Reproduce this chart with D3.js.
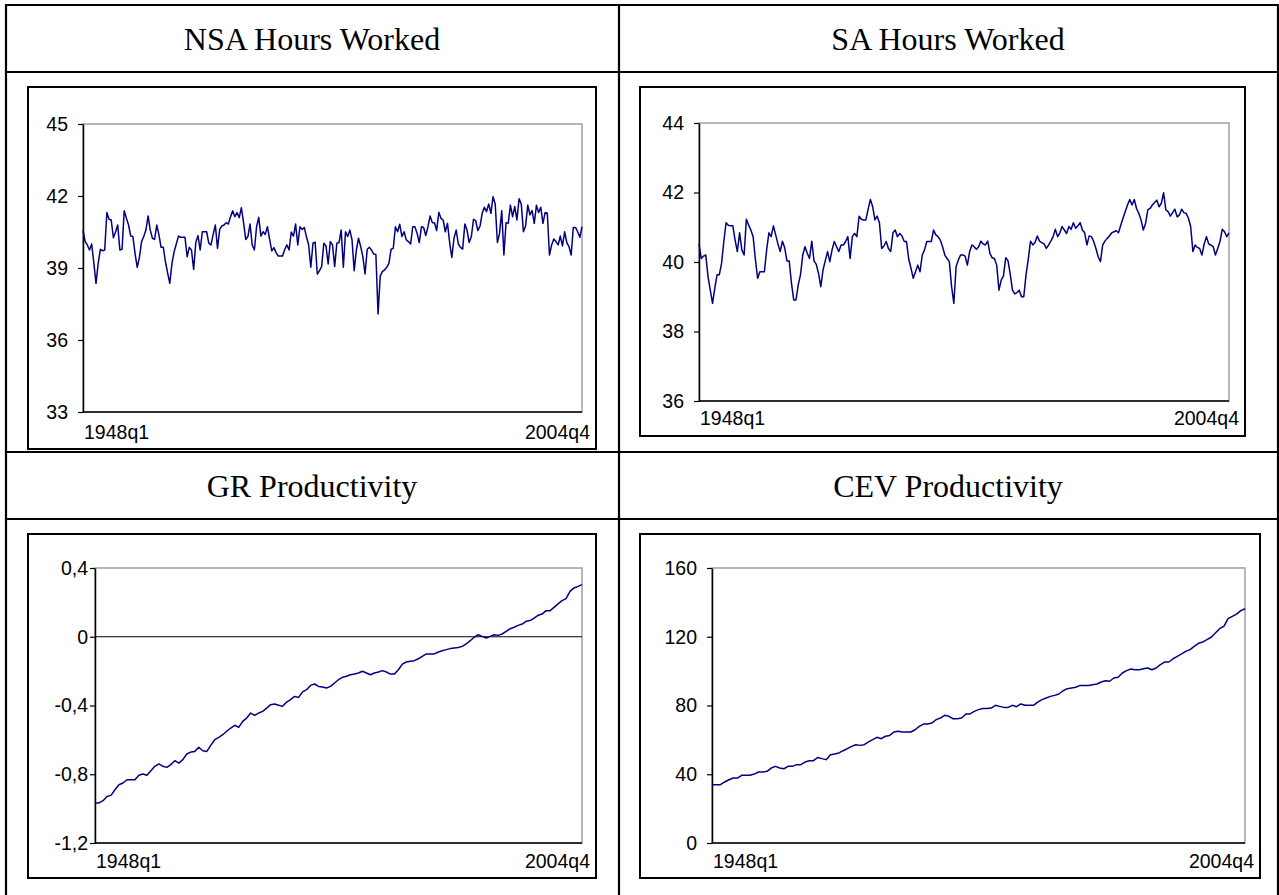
<!DOCTYPE html>
<html>
<head>
<meta charset="utf-8">
<script src="https://cdn.jsdelivr.net/npm/d3@7"></script>
<style>
  body { margin: 0; background: #fff; }
</style>
</head>
<body>
<script>
// Panel titles and the two end labels of the quarterly axis
const panelTitles = ["NSA Hours Worked", "SA Hours Worked", "GR Productivity", "CEV Productivity"];
const xLabels = ["1948q1", "2004q4"];

// y tick values per panel
const nsaTicks = [33, 36, 39, 42, 45];
const saTicks = [36, 38, 40, 42, 44];
const grTicks = [-1.2, -0.8, -0.4, 0, 0.4];
const cevTicks = [0, 40, 80, 120, 160];

// series (1948q1 .. 2004q4)
const nsaHours = [
  40.58, 40.10, 39.96, 39.75, 40.00, 39.20, 38.36, 39.19, 39.78, 39.72,
  39.75, 41.31, 41.03, 41.00, 40.26, 40.50, 40.79, 39.75, 39.78, 41.39,
  41.07, 40.79, 40.33, 40.31, 39.60, 39.03, 39.44, 40.10, 40.31, 40.58,
  41.17, 40.58, 40.24, 40.19, 40.79, 40.38, 39.86, 39.86, 39.26, 38.80,
  38.36, 39.19, 39.68, 40.00, 40.33, 40.28, 40.28, 40.28, 39.47, 39.86,
  39.75, 38.94, 40.06, 40.35, 39.75, 40.51, 40.51, 40.51, 40.03, 39.96,
  40.40, 40.79, 39.82, 40.61, 40.75, 40.79, 40.89, 40.83, 41.14, 41.38,
  41.14, 41.31, 41.10, 41.51, 40.90, 40.19, 40.31, 40.83, 39.96, 39.75,
  40.72, 41.11, 40.33, 40.51, 40.40, 40.72, 40.20, 39.71, 39.85, 39.64,
  39.50, 39.50, 39.50, 39.78, 39.96, 39.75, 40.50, 40.33, 40.83, 39.96,
  40.72, 40.61, 40.69, 40.30, 39.96, 39.03, 40.03, 40.08, 38.75, 38.89,
  39.06, 40.03, 39.92, 39.17, 40.10, 39.96, 39.06,
  40.03, 40.06, 40.58, 39.03, 40.51, 40.31, 40.58, 40.17, 38.89, 39.75,
  40.24, 39.89, 39.47, 38.75, 39.78, 39.86, 39.75, 39.58, 39.56, 37.08,
  38.67, 38.85, 38.92, 39.03, 39.19, 39.78, 39.82, 40.72, 40.51, 40.82,
  40.31, 40.51, 40.17, 40.10, 40.00, 40.72, 40.72, 40.44, 40.06, 40.72,
  40.69, 40.35, 40.72, 41.17, 40.89, 40.89, 40.56, 41.32, 41.07, 41.00,
  40.51, 40.86, 40.06, 39.44, 40.24, 40.58, 40.00, 39.86, 39.79, 40.83,
  40.58, 40.06, 40.31, 41.03, 40.97, 40.56, 40.75, 41.28, 41.53, 41.35,
  41.67, 41.28, 41.97, 41.67, 40.06, 40.44, 41.39, 39.54, 40.89, 40.86,
  41.62, 41.14, 41.56, 41.00, 41.89, 41.67, 40.51, 40.75, 41.62, 41.21,
  41.39, 40.86, 41.61, 41.31, 41.53, 40.86, 41.31, 41.28, 39.54, 39.96,
  40.21, 40.10, 39.96, 40.33, 39.92, 40.51, 40.06, 39.89, 39.54, 40.69,
  40.69, 40.51, 40.28, 40.72
];

const saHours = [
  40.52, 40.10, 40.17, 40.20, 39.58, 39.19, 38.81, 39.24, 39.63, 39.63,
  39.96, 40.59, 41.13, 41.06, 41.04, 41.04, 40.63, 40.30, 40.84, 40.35,
  40.20, 41.23, 41.06, 40.92, 40.73, 40.08, 39.53, 39.72, 39.72, 39.72,
  40.35, 40.84, 40.73, 41.04, 40.78, 40.52, 40.30, 40.60, 40.41, 40.03,
  40.03, 39.39, 38.91, 38.91, 39.34, 39.63, 40.20, 40.44, 40.25, 40.10,
  40.60, 40.03, 39.93, 39.67, 39.29, 39.77, 40.04, 40.30, 40.01, 40.35,
  40.59, 40.44, 40.30, 40.49, 40.49, 40.59, 40.73, 40.10, 40.73, 40.82,
  40.73, 41.32, 41.23, 41.21, 41.21, 41.52, 41.80, 41.59, 41.21, 41.32,
  41.13, 40.39, 40.46, 40.59, 40.39, 40.30, 40.84, 40.92, 40.73, 40.82,
  40.75, 40.59, 40.59, 40.08, 39.82, 39.53, 39.72, 39.91, 39.72, 40.20,
  40.35, 40.59, 40.59, 40.59, 40.92, 40.78, 40.73, 40.63, 40.44, 40.20,
  40.10, 40.01, 39.29, 38.81, 39.87, 40.06, 40.20, 40.20,
  40.17, 39.91, 40.30, 40.49, 40.44, 40.37, 40.44, 40.60, 40.52, 40.49,
  40.60, 40.25, 40.12, 40.10, 39.91, 39.19, 39.48, 39.60, 40.12, 40.04,
  39.65, 39.19, 39.08, 39.12, 39.19, 39.00, 39.00, 39.63, 40.08, 40.60,
  40.49, 40.56, 40.75, 40.60, 40.56, 40.52, 40.39, 40.49, 40.60, 40.73,
  40.94, 40.73, 40.84, 41.02, 40.92, 40.82, 41.02, 40.94, 41.13, 40.97,
  41.04, 41.13, 40.92, 40.84, 40.49, 40.75, 40.73, 40.59, 40.39, 40.15,
  40.01, 40.49, 40.60, 40.68, 40.75, 40.84, 40.87, 40.90, 40.84, 41.06,
  41.26, 41.45, 41.64, 41.80, 41.64, 41.80, 41.54, 41.40, 41.21, 40.92,
  41.11, 41.50, 41.54, 41.64, 41.71, 41.78, 41.59, 41.69, 41.99, 41.50,
  41.45, 41.32, 41.42, 41.52, 41.30, 41.35, 41.52, 41.42, 41.40, 41.26,
  41.02, 40.30, 40.49, 40.42, 40.39, 40.20, 40.52, 40.73, 40.52, 40.49,
  40.44, 40.20, 40.39, 40.59, 40.94, 40.87, 40.73, 40.84
];

const grProductivity = [
  -0.967, -0.967, -0.954, -0.929, -0.923, -0.890, -0.861, -0.851, -0.832, -0.832,
  -0.832, -0.806, -0.799, -0.806, -0.779, -0.754, -0.740, -0.754, -0.760, -0.744,
  -0.721, -0.735, -0.715, -0.682, -0.671, -0.667, -0.643, -0.663, -0.667, -0.632,
  -0.599, -0.585, -0.570, -0.550, -0.531, -0.515, -0.527, -0.492, -0.473, -0.444,
  -0.457, -0.444, -0.434, -0.415, -0.395, -0.391, -0.399, -0.405, -0.380, -0.366,
  -0.347, -0.353, -0.321, -0.308, -0.283, -0.275, -0.289, -0.292, -0.298, -0.289,
  -0.269, -0.250, -0.236, -0.230, -0.221, -0.217, -0.211, -0.201, -0.211, -0.221,
  -0.211, -0.205, -0.197, -0.205, -0.217, -0.217, -0.192, -0.159, -0.147, -0.143,
  -0.139, -0.128, -0.114, -0.100, -0.100, -0.100, -0.089, -0.081, -0.075, -0.069,
  -0.065, -0.062, -0.056, -0.042, -0.023, -0.003, 0.012, 0.002, -0.007, 0.002,
  0.012, 0.008, 0.016, 0.031, 0.047, 0.055, 0.066, 0.074, 0.090, 0.094,
  0.109, 0.125, 0.132, 0.152, 0.152, 0.171, 0.191, 0.210, 0.222, 0.264,
  0.284, 0.293, 0.303
];

const cevProductivity = [
  33.9, 33.9, 33.9, 35.5, 36.8, 37.8, 37.8, 39.4, 39.4, 39.4,
  40.1, 41.3, 41.3, 41.7, 43.6, 44.6, 43.6, 43.2, 44.6, 44.6,
  45.6, 45.6, 47.1, 47.9, 47.9, 49.8, 49.1, 48.5, 51.4, 51.8,
  52.4, 53.7, 54.9, 56.2, 57.2, 56.8, 57.2, 58.8, 60.1, 61.5,
  60.7, 62.1, 62.6, 64.6, 65.0, 64.6, 64.6, 64.6, 65.9, 67.9,
  69.2, 69.2, 69.8, 71.8, 72.7, 74.3, 73.7, 72.3, 72.3, 72.7,
  75.1, 75.1, 76.6, 77.6, 78.2, 78.2, 78.5, 80.1, 79.5, 78.9,
  78.9, 80.1, 79.3, 80.9, 80.1, 80.1, 80.1, 82.0, 83.4, 84.4,
  85.3, 85.9, 86.7, 88.6, 89.8, 90.2, 90.6, 91.7, 91.7, 91.7,
  92.1, 92.5, 93.7, 94.4, 94.1, 96.0, 96.4, 98.9, 100.3, 101.2,
  100.8, 100.8, 101.4, 101.8, 100.8, 101.8, 103.8, 105.3, 105.3, 107.2,
  108.6, 110.0, 111.5, 112.5, 114.4, 116.2, 116.9, 118.3, 119.7, 122.2,
  124.7, 126.1, 130.5, 131.9, 133.2, 135.2, 136.3
];

const width = 1279;
const height = 895;
const sans = "'Liberation Sans', Arial, sans-serif";
const serif = "'Liberation Serif', 'Times New Roman', serif";

const svg = d3.select("body")
  .append("svg")
  .attr("width", width)
  .attr("height", height)
  .attr("viewBox", [0, 0, width, height]);

// table grid of the document
const grid = svg.append("g").attr("stroke", "#000").attr("stroke-width", 2.2);
[6, 619, 1278].forEach(x => grid.append("line").attr("x1", x).attr("x2", x).attr("y1", 4).attr("y2", height));
[5, 72, 452, 519].forEach(y => grid.append("line").attr("x1", 5).attr("x2", 1279).attr("y1", y).attr("y2", y));

// cell headers
const headerPos = [[312, 50], [948, 50], [312, 497], [948, 497]];
svg.append("g")
  .selectAll("text")
  .data(panelTitles)
  .join("text")
  .attr("x", (d, i) => headerPos[i][0])
  .attr("y", (d, i) => headerPos[i][1])
  .attr("text-anchor", "middle")
  .attr("font-family", serif)
  .attr("font-size", 32)
  .text(d => d);

const commaFormat = d => (d === 0 ? "0" : String(d).replace(".", ","));

const panels = [
  { values: nsaHours, ticks: nsaTicks, frame: [28, 87, 596, 449], plot: [83, 124, 582, 412], labelY: 439, pad: 10 },
  { values: saHours, ticks: saTicks, frame: [640, 87, 1245, 436], plot: [699, 123, 1229, 401], labelY: 425, pad: 10 },
  { values: grProductivity, ticks: grTicks, frame: [28, 534, 596, 878], plot: [95, 568, 582, 843], labelY: 868, pad: 2, format: commaFormat },
  { values: cevProductivity, ticks: cevTicks, frame: [640, 534, 1260, 878], plot: [712, 568, 1245, 843], labelY: 868, pad: 10 }
];

panels.forEach(p => {
  const [fx0, fy0, fx1, fy1] = p.frame;
  const [px0, py0, px1, py1] = p.plot;
  const g = svg.append("g");

  g.append("rect")
    .attr("x", fx0).attr("y", fy0)
    .attr("width", fx1 - fx0).attr("height", fy1 - fy0)
    .attr("fill", "#fff").attr("stroke", "#000").attr("stroke-width", 2);

  const x = d3.scaleLinear().domain([0, p.values.length - 1]).range([px0, px1]);
  const y = d3.scaleLinear().domain(d3.extent(p.ticks)).range([py1, py0]);

  // plot area border (grey top and right)
  g.append("rect")
    .attr("x", px0).attr("y", py0)
    .attr("width", px1 - px0).attr("height", py1 - py0)
    .attr("fill", "none").attr("stroke", "#a0a0a0").attr("stroke-width", 1.5);

  if (p.ticks[0] < 0) {
    g.append("line")
      .attr("x1", px0).attr("x2", px1)
      .attr("y1", y(0)).attr("y2", y(0))
      .attr("stroke", "#000").attr("stroke-width", 1);
  }

  const axis = g.append("g")
    .attr("transform", `translate(${px0},0)`)
    .call(d3.axisLeft(y)
      .tickValues(p.ticks)
      .tickSize(5)
      .tickSizeOuter(0)
      .tickPadding(p.pad)
      .tickFormat(p.format || (d => d)));
  axis.select(".domain").attr("stroke", "#000").attr("stroke-width", 1.5);
  axis.selectAll(".tick line").attr("stroke", "#000").attr("stroke-width", 1.2);
  axis.selectAll(".tick text")
    .attr("fill", "#000")
    .attr("font-family", sans)
    .attr("font-size", 19.5);

  g.append("line")
    .attr("x1", px0).attr("x2", px1)
    .attr("y1", py1).attr("y2", py1)
    .attr("stroke", "#000").attr("stroke-width", 1.5);

  g.append("path")
    .datum(p.values)
    .attr("d", d3.line().x((d, i) => x(i)).y(d => y(d)))
    .attr("fill", "none")
    .attr("stroke", "#000080")
    .attr("stroke-width", 1.5)
    .attr("stroke-linejoin", "round");

  g.append("text")
    .attr("x", px0 + 1).attr("y", p.labelY)
    .attr("font-family", sans).attr("font-size", 19.5)
    .text(xLabels[0]);
  g.append("text")
    .attr("x", fx1 - 6).attr("y", p.labelY)
    .attr("text-anchor", "end")
    .attr("font-family", sans).attr("font-size", 19.5)
    .text(xLabels[1]);
});
</script>
</body>
</html>
